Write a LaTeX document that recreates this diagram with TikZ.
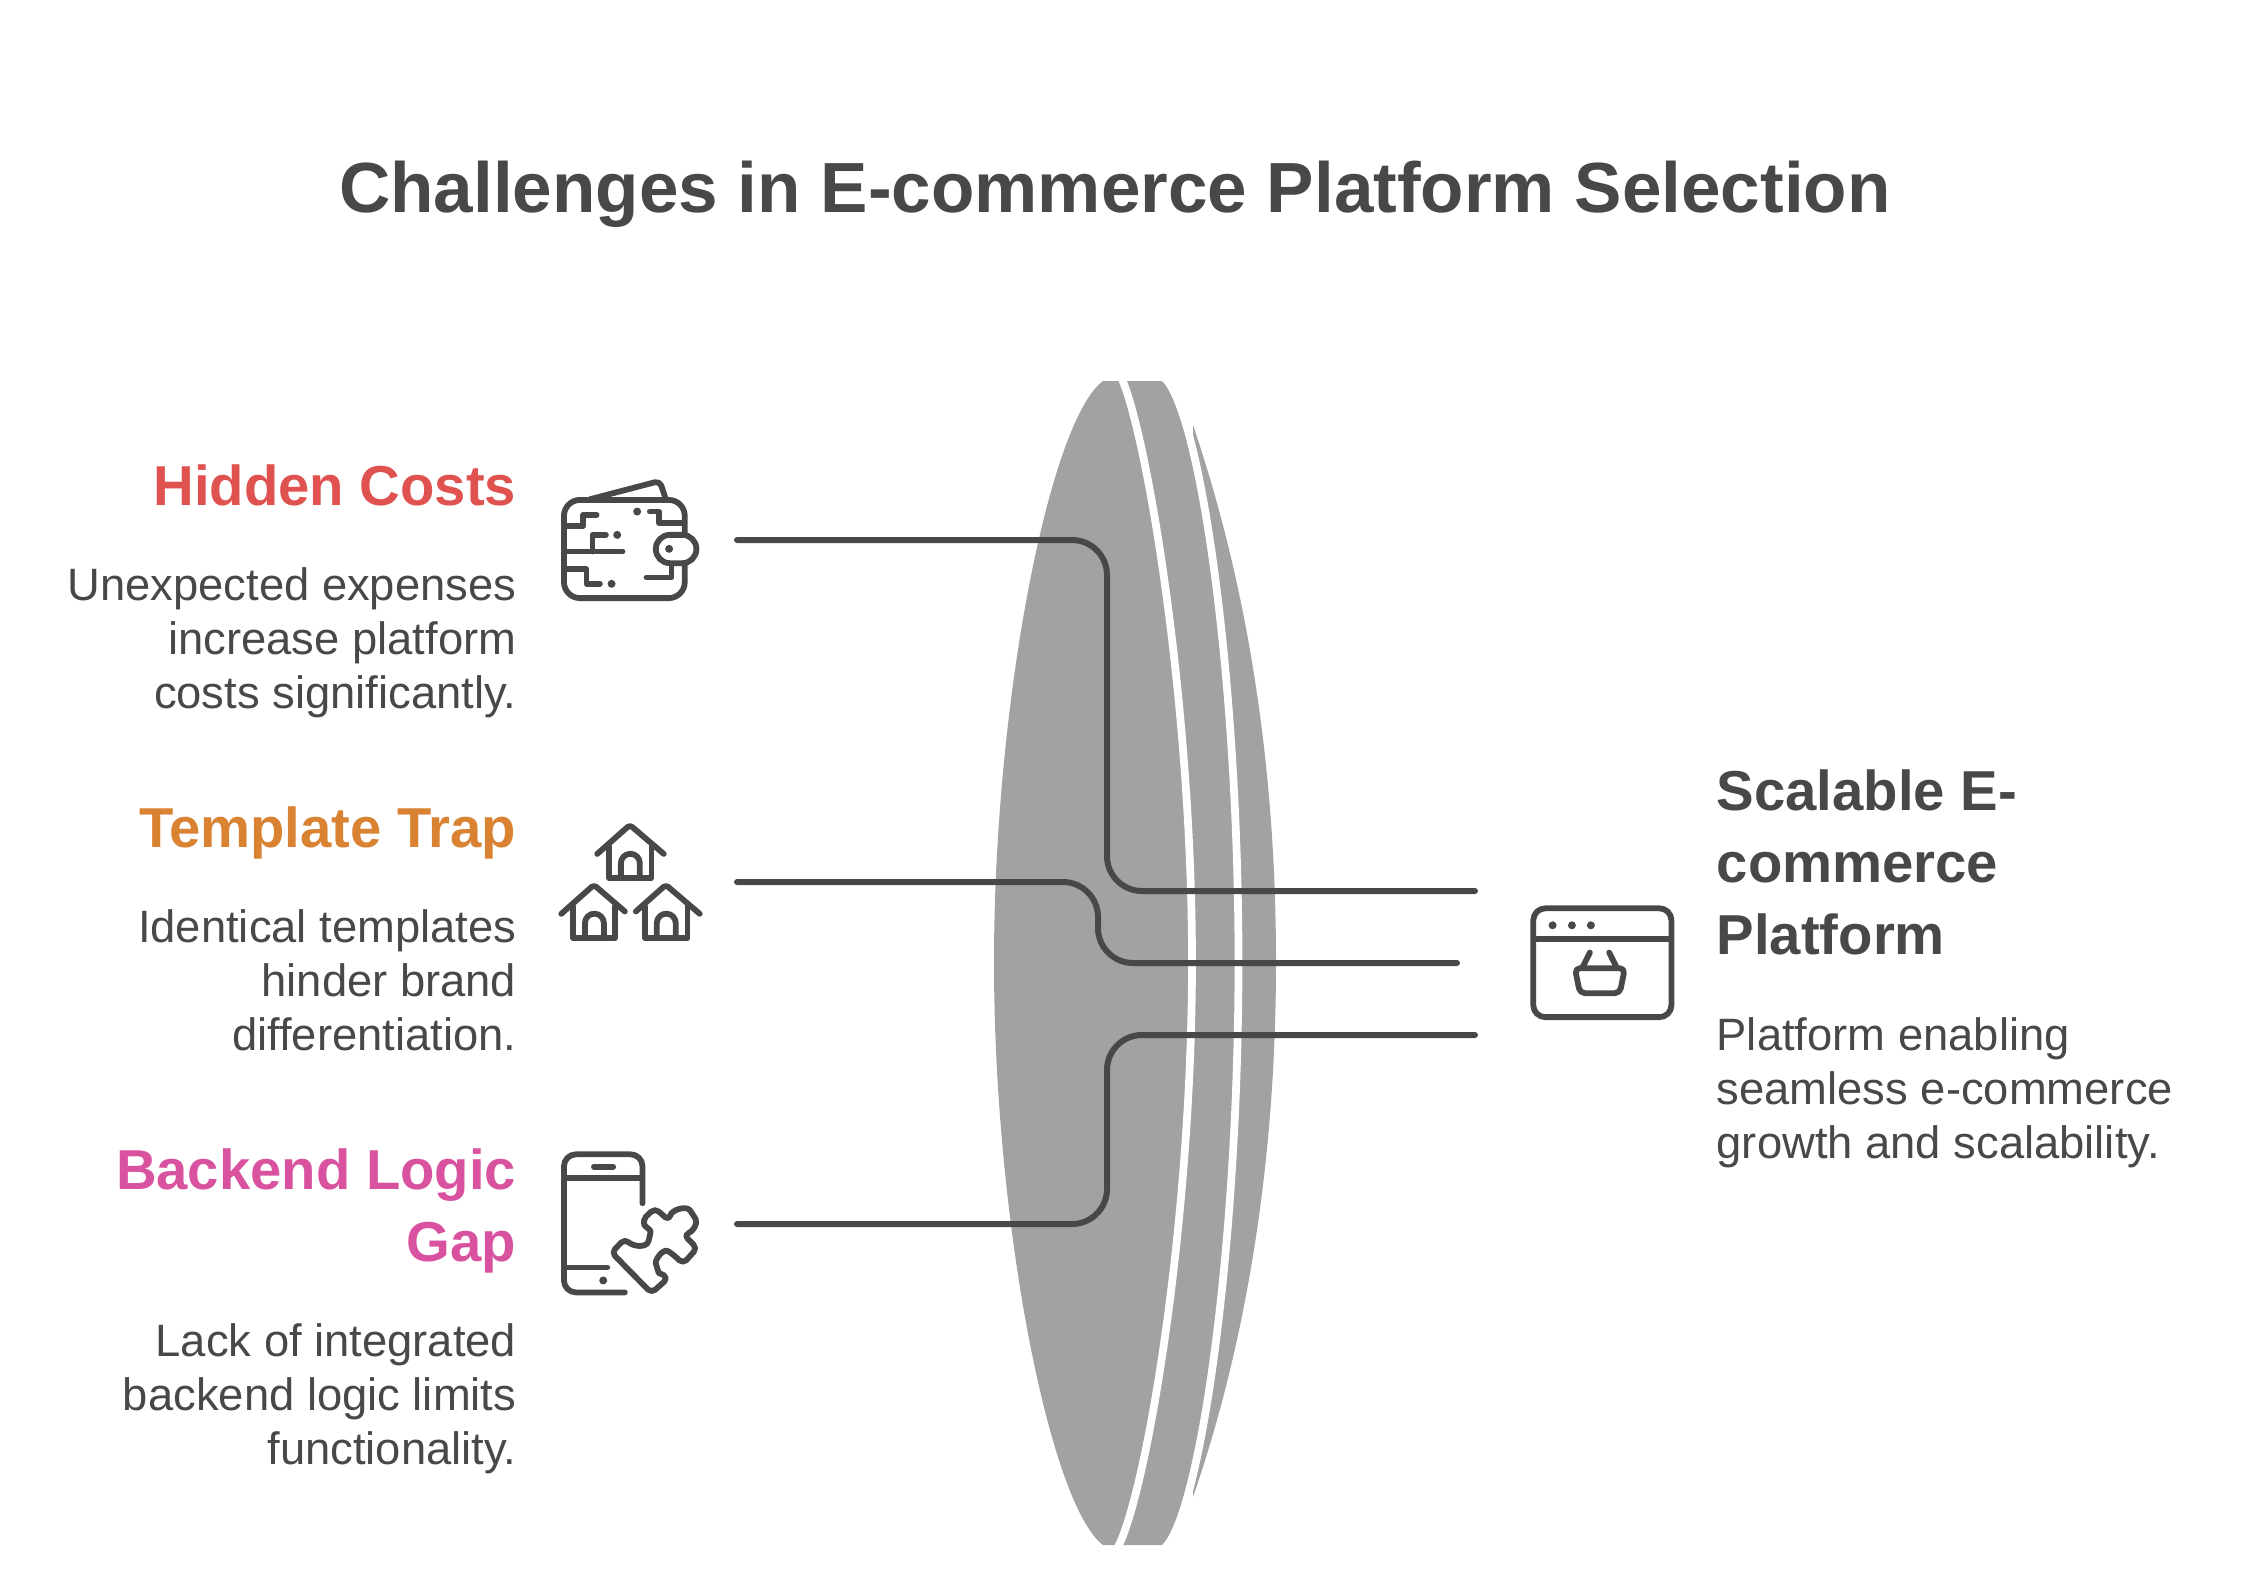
\documentclass[tikz,border=0pt]{standalone}
\usepackage{fontspec}
\setmainfont{Liberation Sans}
\definecolor{discgray}{HTML}{A3A1A3}
\definecolor{inkgray}{HTML}{484848}
\definecolor{costred}{HTML}{E0524F}
\definecolor{traporange}{HTML}{D98232}
\definecolor{gappink}{HTML}{D9529F}
\tikzset{
  titletext/.style={inner sep=0pt,text=inkgray,font=\fontsize{20.2}{24}\selectfont\bfseries},
  headtext/.style={inner sep=0pt,align=right,anchor=north east,font=\fontsize{16}{20.5}\selectfont\bfseries},
  bodytext/.style={inner sep=0pt,align=right,anchor=north east,text=inkgray,font=\fontsize{12.9}{15.4}\selectfont},
  gapline/.style={white,line width=2.2pt},
  linkline/.style={inkgray,line width=1.7pt,line cap=round,rounded corners=0.35cm},
  iconline/.style={inkgray,line width=1.65pt,line cap=round,line join=round},
  zoomed/.style={x=0.003333cm,y=-0.003333cm}
}
\begin{document}
\begin{tikzpicture}[x=0.01cm,y=-0.01cm]
  \useasboundingbox (0,0) rectangle (2260,1593);

  % title
  \node[titletext] (title) at (1115,194) {Challenges in E-commerce Platform Selection};

  % disc, back to front
  \fill[discgray] (1193,425) .. controls (1225,520) and (1276,700) .. (1276,962)
    .. controls (1276,1224) and (1225,1404) .. (1193,1497) -- cycle;
  \fill[discgray] (1122,381) -- (1162,381) .. controls (1198,415) and (1235,680) .. (1235,962)
    .. controls (1235,1244) and (1198,1511) .. (1162,1545) -- (1122,1545) -- cycle;
  \draw[gapline] (1165,378) .. controls (1201,415) and (1238.5,680) .. (1238.5,962)
    .. controls (1238.5,1244) and (1201,1511) .. (1165,1548);
  \fill[discgray] (1103,381) -- (1122,381) .. controls (1146,430) and (1192,700) .. (1192,962)
    .. controls (1192,1224) and (1146,1496) .. (1122,1545) -- (1103,1545)
    .. controls (1050,1505) and (994,1224) .. (994,962)
    .. controls (994,700) and (1050,420) .. (1103,381) -- cycle;
  \draw[gapline] (1121,377) .. controls (1146,430) and (1192,700) .. (1192,962)
    .. controls (1192,1224) and (1146,1496) .. (1117,1549);

  % connectors
  \coordinate (hiddenstart) at (737,540);
  \coordinate (hiddenend) at (1475,891);
  \coordinate (trapstart) at (737,882);
  \coordinate (trapend) at (1457,963);
  \coordinate (gapstart) at (737,1224);
  \coordinate (gapend) at (1475,1035);
  \draw[linkline] (hiddenstart) -- (1107,540) -- (1107,891) -- (hiddenend);
  \draw[linkline] (trapstart) -- (1098,882) -- (1098,963) -- (trapend);
  \draw[linkline] (gapstart) -- (1107,1224) -- (1107,1035) -- (gapend);

  % left column
  \node[headtext,text=costred] (hiddenhead) at (517,464) {Hidden Costs};
  \node[bodytext] (hiddenbody) at (517,567) {Unexpected expenses\\increase platform\\costs significantly.};
  \node[headtext,text=traporange] (traphead) at (517,806) {Template Trap};
  \node[bodytext] (trapbody) at (517,909) {Identical templates\\hinder brand\\differentiation.};
  \node[headtext,text=gappink] (gaphead) at (517,1148) {Backend Logic\\Gap};
  \node[bodytext] (gapbody) at (517,1323) {Lack of integrated\\backend logic limits\\functionality.};

  % right column
  \node[headtext,anchor=north west,align=left,text=inkgray] (platformhead) at (1716,769) {Scalable E-\\commerce\\Platform};
  \node[bodytext,anchor=north west,align=left] (platformbody) at (1716,1017) {Platform enabling\\seamless e-commerce\\growth and scalability.};

  % wallet icon
  \begin{scope}[shift={(540,450)},zoomed,iconline]
    \draw[rounded corners=0.16cm] (435,250) -- (435,150) -- (72,150) -- (72,445) -- (435,445) -- (435,345);
    \draw[rounded corners=0.14cm] (348,255) rectangle (470,340);
    \draw[rounded corners=0.05cm] (150,148) -- (360,93) -- (378,148);
    \draw (78,228) -- (130,228) -- (130,195) -- (170,195);
    \draw (78,305) -- (248,305);
    \draw (158,305) -- (158,255) -- (198,255);
    \draw (78,358) -- (140,358) -- (140,402) -- (180,402);
    \draw (330,185) -- (358,185) -- (358,220) -- (430,220);
    \draw (395,345) -- (395,383) -- (320,383);
    \fill (388,297) circle (12);
    \fill (232,255) circle (12);
    \fill (215,402) circle (12);
    \fill (292,185) circle (12);
  \end{scope}

  % houses icon
  \begin{scope}[shift={(540,800)},zoomed,iconline]
    \draw[rounded corners=0.03cm] (172,162) -- (270,75) -- (372,162);
    \draw (208,140) -- (208,235) -- (335,235) -- (335,140);
    \draw (243,232) -- (243,190) arc[start angle=180,end angle=360,radius=28.5] -- (300,232);
    \draw[rounded corners=0.03cm] (64,342) -- (162,255) -- (255,335);
    \draw (100,320) -- (100,415) -- (225,415) -- (225,320);
    \draw (135,412) -- (135,370) arc[start angle=180,end angle=360,radius=28.5] -- (192,412);
    \draw[rounded corners=0.03cm] (288,335) -- (378,255) -- (480,342);
    \draw (316,320) -- (316,415) -- (443,415) -- (443,320);
    \draw (351,412) -- (351,370) arc[start angle=180,end angle=360,radius=28.5] -- (408,412);
  \end{scope}

  % phone and puzzle icon
  \begin{scope}[shift={(540,1130)},zoomed,iconline]
    \draw[rounded corners=0.12cm] (308,220) -- (308,73) -- (72,73) -- (72,488) -- (255,488);
    \draw (78,145) -- (302,145);
    \draw (162,110) -- (220,110);
    \draw (78,413) -- (202,413);
    \fill (190,452) circle (12);
    \draw[rounded corners=0.05cm] (335,490) -- (215,368) -- (255,327)
      .. controls (280,350) and (320,355) .. (330,320)
      .. controls (333,300) and (315,290) .. (308,270) -- (345,235) -- (388,272)
      .. controls (395,240) and (440,225) .. (460,255)
      .. controls (475,280) and (460,305) .. (432,315) -- (472,355) -- (430,402) -- (398,372)
      .. controls (370,355) and (345,390) .. (352,415)
      .. controls (357,430) and (370,435) .. (385,445) -- cycle;
  \end{scope}

  % basket window icon
  \begin{scope}[shift={(1510,890)},zoomed,iconline]
    \draw[rounded corners=0.12cm] (70,55) rectangle (485,382);
    \draw (72,147) -- (483,147);
    \fill (128,106) circle (12);
    \fill (186,106) circle (12);
    \fill (243,106) circle (12);
    \draw[rounded corners=0.05cm] (195,235) -- (210,310) -- (330,310) -- (345,235) -- cycle;
    \draw (218,232) -- (240,188);
    \draw (320,232) -- (298,188);
  \end{scope}
\end{tikzpicture}
\end{document}
